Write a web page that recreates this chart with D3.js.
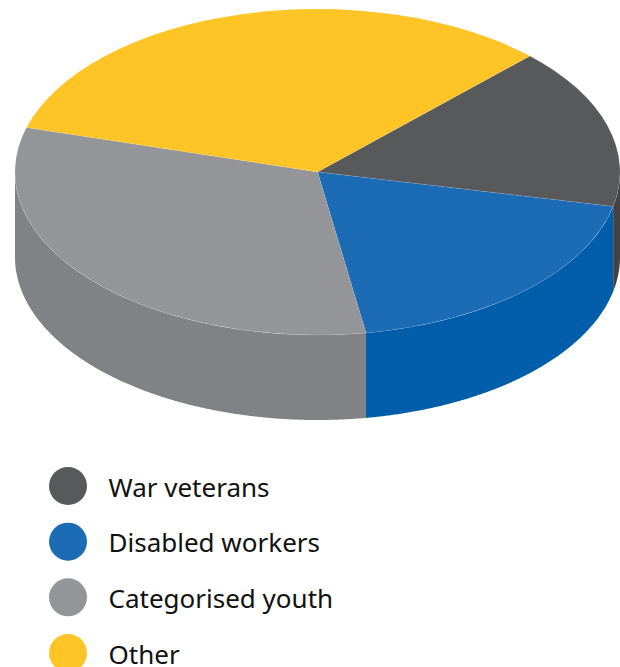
<!DOCTYPE html>
<html>
<head>
<meta charset="utf-8">
<script src="https://cdn.jsdelivr.net/npm/d3@7"></script>
<style>
  html, body { margin: 0; padding: 0; background: #fff; overflow: hidden; }
  svg { display: block; }
  text { font-family: "Noto Sans", "Open Sans", sans-serif; fill: #111; }
</style>
</head>
<body>
<div id="chart"></div>
<script>
const categories = ["War veterans", "Disabled workers", "Categorised youth", "Other"];
const shares = [16, 19.05, 31.95, 33];
const topColors = ["#58595b", "#1b6cb5", "#939598", "#ffc425"];
const sideColors = ["#434345", "#005da9", "#808285", "#b88d1a"];

const width = 620, height = 667;
const cx = 317.5, cy = 172, rx = 302.5, ry = 163, depth = 85;
const startDeg = 44.6;

const svg = d3.select("#chart").append("svg")
  .attr("width", width).attr("height", height);

const pie = d3.pie().sort(null).value(d => d)
  .startAngle(startDeg * Math.PI / 180)
  .endAngle((startDeg + 360) * Math.PI / 180);
const arcs = pie(shares);

// Rim of the disc: only the part of each slice between 3 and 9 o'clock faces the viewer.
const rimX = a => cx + rx * Math.sin(a);
const rimY = a => cy - ry * Math.cos(a);
const rim = d3.area().x(rimX).y0(rimY).y1(a => rimY(a) + depth);
const frontFrom = Math.PI / 2, frontTo = 3 * Math.PI / 2;

const sides = svg.append("g");
arcs.forEach((d, i) => {
  [0, 2 * Math.PI].forEach(shift => {
    const a0 = Math.max(d.startAngle - shift, frontFrom);
    const a1 = Math.min(d.endAngle - shift, frontTo);
    if (a1 <= a0) return;
    const steps = d3.range(a0, a1, 0.005).concat([a1]);
    sides.append("path").attr("d", rim(steps)).attr("fill", sideColors[i]);
  });
});

// Top face: a circular pie squashed into an ellipse.
const arc = d3.arc().innerRadius(0).outerRadius(rx);
svg.append("g")
  .attr("transform", `translate(${cx},${cy}) scale(1,${ry / rx})`)
  .selectAll("path")
  .data(arcs)
  .join("path")
  .attr("d", arc)
  .attr("fill", (d, i) => topColors[i])
  .attr("stroke", "rgba(255,255,255,0.14)")
  .attr("stroke-width", 0.7)
  .attr("vector-effect", "non-scaling-stroke");

// Legend
const legendY = d3.scalePoint().domain(categories).range([486, 653]);
const legend = svg.append("g").selectAll("g")
  .data(categories)
  .join("g")
  .attr("transform", d => `translate(0,${legendY(d)})`);
legend.append("circle")
  .attr("cx", 68).attr("r", 19)
  .attr("fill", (d, i) => topColors[i]);
legend.append("text")
  .attr("x", 108.5).attr("y", 10.5)
  .attr("font-size", 26)
  .text(d => d);
</script>
</body>
</html>
